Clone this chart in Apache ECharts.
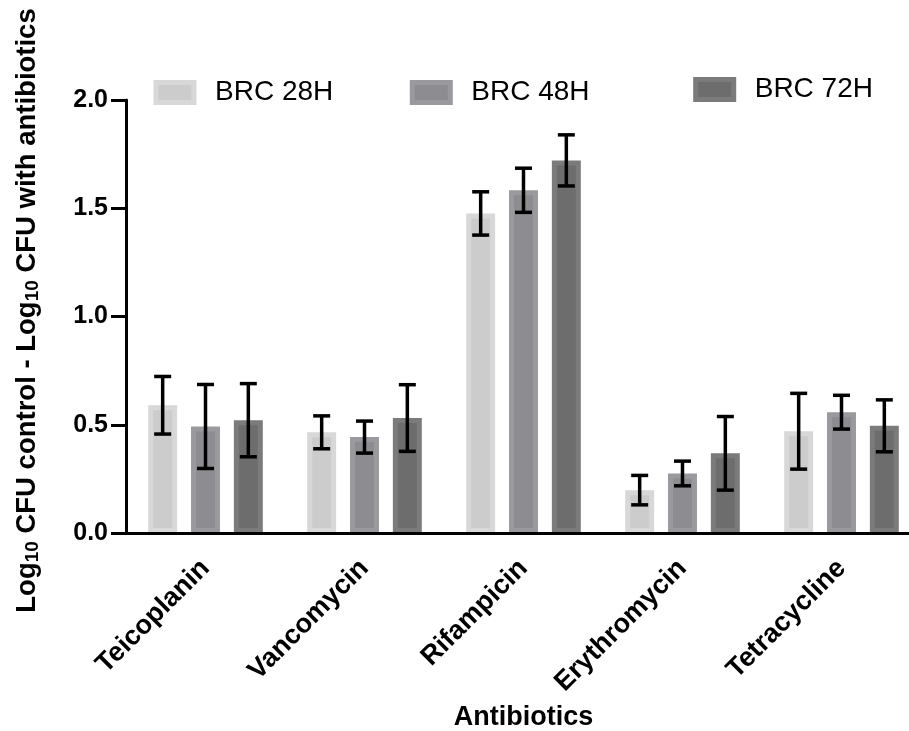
<!DOCTYPE html>
<html>
<head>
<meta charset="utf-8">
<script src="https://cdn.jsdelivr.net/npm/echarts@6/dist/echarts.min.js"></script>
<style>
html,body{margin:0;padding:0;background:#fff;}
#chart{width:909px;height:731px;}
</style>
</head>
<body>
<div id="chart"></div>
<script>
const categories = ['Teicoplanin', 'Vancomycin', 'Rifampicin', 'Erythromycin', 'Tetracycline'];
const seriesNames = ['BRC 28H', 'BRC 48H', 'BRC 72H'];
const means28 = [0.59, 0.465, 1.476, 0.198, 0.47];
const means48 = [0.492, 0.443, 1.583, 0.275, 0.558];
const means72 = [0.521, 0.531, 1.721, 0.368, 0.495];
const err28 = [0.133, 0.076, 0.100, 0.068, 0.175];
const err48 = [0.194, 0.074, 0.102, 0.057, 0.078];
const err72 = [0.169, 0.154, 0.118, 0.170, 0.120];
const yTickValues = [0, 0.5, 1.0, 1.5, 2.0];

const FONT = '"Liberation Sans", Arial, Helvetica, sans-serif';
const fills = ['#cccccc', '#8d8d91', '#6d6d6d'];
const borders = ['#d8d8d8', '#9a9a9e', '#7b7b7b'];
const BAR_FRAC = 0.182;
const GAP_FRAC = 0.48;

const allMeans = [means28, means48, means72];
const allErrs = [err28, err48, err72];

const chart = echarts.init(document.getElementById('chart'), null, {renderer: 'canvas'});

const barSeries = seriesNames.map((n, k) => ({
  type: 'bar',
  name: n,
  data: allMeans[k],
  barWidth: (BAR_FRAC * 100) + '%',
  barGap: (GAP_FRAC * 100) + '%',
  itemStyle: {color: fills[k], borderColor: borders[k], borderWidth: 5},
  z: 2,
  silent: true
}));

const errSeries = seriesNames.map((n, k) => ({
  type: 'custom',
  name: 'err' + k,
  silent: true,
  z: 4,
  data: categories.map((c, i) => [i, allMeans[k][i], allErrs[k][i]]),
  encode: {x: 0, y: 1},
  renderItem: function (params, api) {
    const i = api.value(0), m = api.value(1), e = api.value(2);
    const band = api.size([1, 0])[0];
    const w = band * BAR_FRAC;
    const step = w * (1 + GAP_FRAC);
    const x = api.coord([i, m])[0] + (k - 1) * step;
    const top = api.coord([i, m + e])[1];
    const bot = api.coord([i, m - e])[1];
    const cap = 8.5;
    const st = {stroke: '#000', lineWidth: 3.5, lineCap: 'butt'};
    return {
      type: 'group',
      children: [
        {type: 'line', shape: {x1: x, y1: top, x2: x, y2: bot}, style: st},
        {type: 'line', shape: {x1: x - cap, y1: top, x2: x + cap, y2: top}, style: st},
        {type: 'line', shape: {x1: x - cap, y1: bot, x2: x + cap, y2: bot}, style: st}
      ]
    };
  }
}));

const legendLeft = [153.5, 409.8, 693.2];
const legendTop = [78.5, 78.5, 75.5];

const option = {
  backgroundColor: '#ffffff',
  animation: false,
  textStyle: {fontFamily: FONT},
  grid: {left: 126, right: -12, top: 100, bottom: 198, containLabel: false, outerBoundsMode: 'none'},
  legend: seriesNames.map((n, k) => ({
    data: [n],
    left: legendLeft[k],
    top: legendTop[k],
    padding: 0,
    icon: 'rect',
    itemWidth: 38,
    itemHeight: 20,
    selectedMode: false,
    itemStyle: {borderWidth: 5},
    textStyle: {fontSize: 28, color: '#000', fontFamily: FONT, padding: [0, 0, 0, 16]}
  })),
  xAxis: {
    type: 'category',
    data: categories,
    z: 10,
    name: 'Antibiotics',
    nameLocation: 'middle',
    nameGap: 171,
    nameTextStyle: {fontSize: 27, fontWeight: 'bold', color: '#000', fontFamily: FONT},
    axisLine: {lineStyle: {color: '#000', width: 3}},
    axisTick: {alignWithLabel: true, length: 14, lineStyle: {color: '#000', width: 3}},
    axisLabel: {rotate: 45, interval: 0, margin: 31, fontSize: 27, fontWeight: 'bold', color: '#000', fontFamily: FONT},
    splitLine: {show: false}
  },
  yAxis: {
    type: 'value',
    min: yTickValues[0],
    max: yTickValues[yTickValues.length - 1],
    interval: yTickValues[1] - yTickValues[0],
    z: 10,
    name: '{n|Log}{s|10}{n| CFU control - Log}{s|10}{n| CFU with antibiotics}',
    nameLocation: 'middle',
    nameGap: 84,
    nameRotate: 90,
    nameTextStyle: {
      color: '#000',
      fontFamily: FONT,
      fontWeight: 'bold',
      fontSize: 27.5,
      padding: [0, 0, 0, 12],
      rich: {
        n: {fontSize: 27.5, fontWeight: 'bold', color: '#000', fontFamily: FONT, lineHeight: 30},
        s: {fontSize: 19, fontWeight: 'bold', color: '#000', fontFamily: FONT, lineHeight: 19, verticalAlign: 'bottom'}
      }
    },
    axisLine: {show: true, lineStyle: {color: '#000', width: 3}},
    axisTick: {show: true, length: 15, lineStyle: {color: '#000', width: 3}},
    axisLabel: {margin: 18, fontSize: 25, fontWeight: 'bold', color: '#000', fontFamily: FONT,
      formatter: v => v.toFixed(1)},
    splitLine: {show: false}
  },
  series: barSeries.concat(errSeries)
};

chart.setOption(option);
</script>
</body>
</html>
